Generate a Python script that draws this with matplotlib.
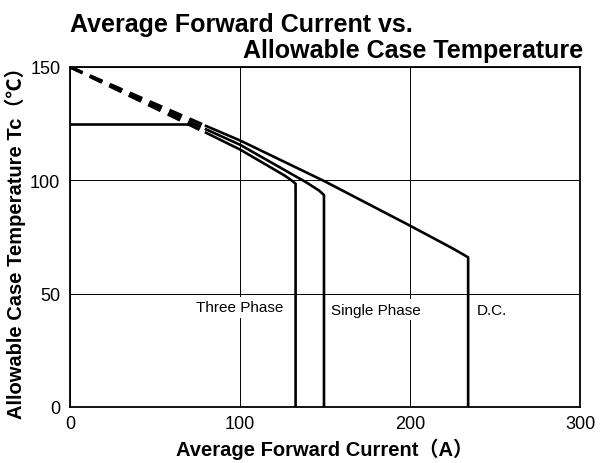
import matplotlib
matplotlib.use("Agg")
import matplotlib.pyplot as plt

# Courbes (A, degC)
tp_x = [80, 100, 126.5, 131, 132.7, 132.7]
tp_y = [121.0, 113.6, 102.0, 99.6, 98.5, 0]
sp_x = [80, 100, 139, 146.5, 149.4, 149.4]
sp_y = [122.5, 115.7, 99.1, 95.5, 93.5, 0]
dc_x = [80, 100, 150, 200, 225, 232, 234.2, 234.2]
dc_y = [124.0, 117.6, 99.5, 80.0, 70.0, 67.0, 66.0, 0]

# extensions en pointillés depuis (0, 150)
dash_start = (0, 150)
flat_x = [0, 73]
flat_y = [125, 125]

labels = ["Three Phase", "Single Phase", "D.C."]
label_x = [100, 180, 248]
label_y = [44.0, 43.0, 43.0]

xticks = [0, 100, 200, 300]
yticks = [0, 50, 100, 150]

fig = plt.figure(figsize=(6, 4.64), dpi=100)
ax = fig.add_axes([70 / 600, 1 - 408 / 464, 510 / 600, 340 / 464])

lw = 1.9
for xs, ys in [(tp_x, tp_y), (sp_x, sp_y), (dc_x, dc_y)]:
    ax.plot(xs, ys, color="black", lw=lw, solid_joinstyle="round", zorder=3)
    ax.plot([dash_start[0], xs[0]], [dash_start[1], ys[0]], color="black",
            lw=2.2, dashes=(4.5, 2.6), zorder=3)
ax.plot(flat_x, flat_y, color="black", lw=lw, zorder=3)

for t, x, y in zip(labels, label_x, label_y):
    ax.text(x, y, t, ha="center", va="center", fontsize=11,
            family=["Liberation Sans", "DejaVu Sans"], zorder=4,
            bbox=dict(facecolor="white", edgecolor="none", pad=2.5))

ax.set_xlim(0, 300)
ax.set_ylim(0, 150)
ax.set_xticks(xticks)
ax.set_yticks(yticks)
ax.grid(True, color="black", linewidth=0.7)
ax.set_axisbelow(True)
ax.tick_params(length=0, labelsize=13, pad=6)
for lab in ax.get_xticklabels() + ax.get_yticklabels():
    lab.set_family(["Liberation Sans Narrow", "Liberation Sans"])
ax.tick_params(axis="y", pad=7)
for s in ax.spines.values():
    s.set_linewidth(1.3)

fam = ["Liberation Sans", "Noto Sans CJK JP", "DejaVu Sans"]
ax.set_xlabel("Average Forward Current（A）", fontsize=14.5, fontweight="bold",
              family=fam, labelpad=4)
ax.set_ylabel("Allowable Case Temperature Tc（℃）", fontsize=14.5,
              fontweight="bold", family=fam, labelpad=3)

fig.text(70 / 600, 1 - 31.7 / 464, "Average Forward Current vs.", fontsize=18,
         fontweight="bold", family=fam, ha="left", va="baseline")
fig.text(583 / 600, 1 - 58.3 / 464, "Allowable Case Temperature", fontsize=18,
         fontweight="bold", family=fam, ha="right", va="baseline")

fig.savefig("out.png", dpi=100)
